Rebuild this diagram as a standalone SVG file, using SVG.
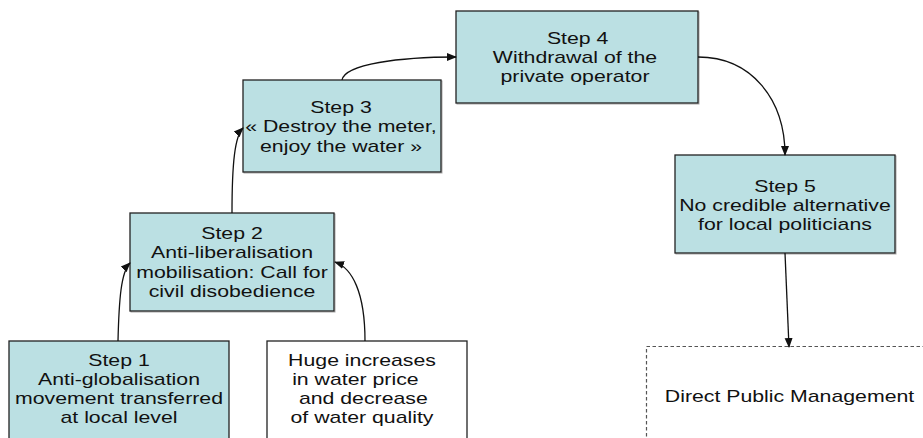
<svg xmlns="http://www.w3.org/2000/svg" width="923" height="438" viewBox="0 0 923 438">
<style>
.box{fill:#BBE0E3;stroke:#222;stroke-width:1.3}
.plain{fill:#fff;stroke:#222;stroke-width:1.3}
.shadow{fill:none;stroke:#a8a8a8;stroke-width:1}
.dash{fill:none;stroke:#555;stroke-width:1.2;stroke-dasharray:3.5 2.5}
.t{font-family:"Liberation Sans",Arial,sans-serif;font-size:16px;fill:#111;text-anchor:middle}
.conn{fill:none;stroke:#111;stroke-width:1.3}
</style>
<defs>
<marker id="ah" markerUnits="userSpaceOnUse" markerWidth="10" markerHeight="10" viewBox="0 0 10 10" refX="9" refY="5" orient="auto">
<path d="M0,1 L10,5 L0,9 Z" fill="#111"/>
</marker>
</defs>
<rect width="923" height="438" fill="#fff"/>

<g id="step1">
<rect class="box" x="9" y="341" width="220" height="105"/>
<text class="t" transform="translate(119,0) scale(1.33,1)"><tspan x="0" y="366">Step 1</tspan><tspan x="0" y="385">Anti-globalisation</tspan><tspan x="0" y="404">movement transferred</tspan><tspan x="0" y="423">at local level</tspan></text>
</g>

<g id="cause">
<rect class="plain" x="267" y="341" width="200" height="105"/>
<text class="t" transform="translate(362,0) scale(1.33,1)"><tspan x="0" y="366">Huge increases</tspan><tspan x="-5" y="385">in water price</tspan><tspan x="1" y="404">and decrease</tspan><tspan x="0" y="423">of water quality</tspan></text>
</g>

<g id="step2">
<rect class="shadow" x="131" y="214" width="204" height="98"/>
<rect class="box" x="130" y="213" width="204" height="98"/>
<text class="t" transform="translate(232,0) scale(1.33,1)"><tspan x="0" y="239">Step 2</tspan><tspan x="0" y="258.5">Anti-liberalisation</tspan><tspan x="0" y="278">mobilisation: Call for</tspan><tspan x="0" y="297">civil disobedience</tspan></text>
</g>

<g id="step3">
<rect class="shadow" x="244" y="81" width="198" height="92"/>
<rect class="box" x="243" y="80" width="198" height="92"/>
<text class="t" transform="translate(341,0) scale(1.33,1)"><tspan x="0" y="113">Step 3</tspan><tspan x="0" y="132.5">« Destroy the meter,</tspan><tspan x="0" y="152">enjoy the water »</tspan></text>
</g>

<g id="step4">
<rect class="shadow" x="457" y="12" width="242" height="92"/>
<rect class="box" x="456" y="11" width="242" height="92"/>
<text class="t" transform="translate(575,0) scale(1.33,1)"><tspan x="2" y="44.5">Step 4</tspan><tspan x="0" y="63.5">Withdrawal of the</tspan><tspan x="0" y="82">private operator</tspan></text>
</g>

<g id="step5">
<rect class="shadow" x="676" y="156" width="220" height="98"/>
<rect class="box" x="675" y="155" width="220" height="98"/>
<text class="t" transform="translate(785,0) scale(1.33,1)"><tspan x="0" y="192">Step 5</tspan><tspan x="0" y="211">No credible alternative</tspan><tspan x="0" y="230">for local politicians</tspan></text>
</g>

<g id="direct">
<rect class="dash" x="646.5" y="346.5" width="300" height="120"/>
<text class="t" transform="translate(789.5,0) scale(1.33,1)"><tspan x="0" y="402">Direct Public Management</tspan></text>
</g>

<g id="connectors">
<path class="conn" d="M118,341 C119,300 121,272 130,263" marker-end="url(#ah)"/>
<path class="conn" d="M365,341 C365,292 352,268 335,262" marker-end="url(#ah)"/>
<path class="conn" d="M232,213 C232,162 235,136 243,128" marker-end="url(#ah)"/>
<path class="conn" d="M342,80 C345,64 400,57 456,57" marker-end="url(#ah)"/>
<path class="conn" d="M698,57 C752,57 785,100 785,155" marker-end="url(#ah)"/>
<path class="conn" d="M785,253 L789,347" marker-end="url(#ah)"/>
</g>
</svg>
